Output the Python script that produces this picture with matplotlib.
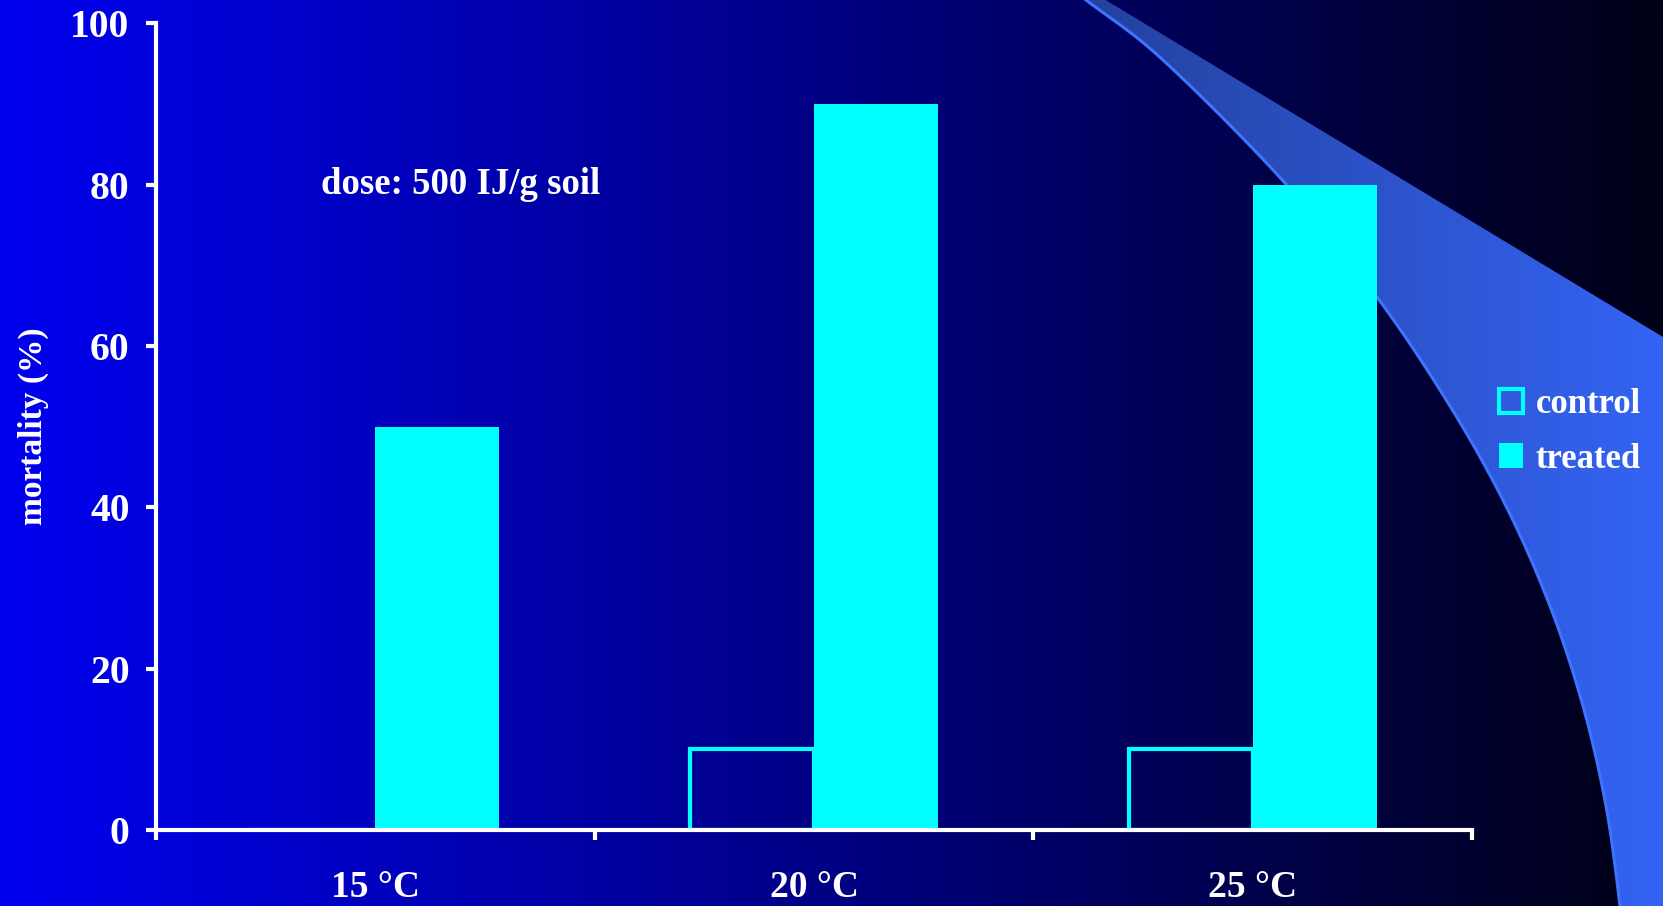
import numpy as np
import matplotlib
matplotlib.use('Agg')
import matplotlib.pyplot as plt
from matplotlib.patches import Polygon, Rectangle

plt.rcParams['font.family'] = ['Liberation Serif', 'DejaVu Sans']
plt.rcParams['font.weight'] = 'bold'

# ---- data ----
categories = ['15 °C', '20 °C', '25 °C']
control = [0, 10, 10]
treated = [50, 90, 80]
series_names = ['control', 'treated']
yticks = [0, 20, 40, 60, 80, 100]
annotation = 'dose: 500 IJ/g soil'
ylabel = 'mortality (%)'

W, H = 1663, 906
fig = plt.figure(figsize=(W / 100, H / 100), dpi=100)

# ---- background (pixel coordinate axes) ----
bg = fig.add_axes([0, 0, 1, 1], zorder=0)
bg.set_xlim(0, W)
bg.set_ylim(H, 0)
bg.axis('off')
t = np.linspace(0, 1, 400)
c_left = np.array([0, 0, 240]) / 255
c_right = np.array([0, 0, 22]) / 255
img = c_left[None, :] * (1 - t[:, None]) + c_right[None, :] * t[:, None]
bg.imshow(img[None, :, :], extent=[0, W, H, 0], aspect='auto', interpolation='bilinear', zorder=0)


def catmull(pts, n=24):
    pts = np.asarray(pts, float)
    P = np.vstack([2 * pts[0] - pts[1], pts, 2 * pts[-1] - pts[-2]])
    out = []
    for i in range(1, len(P) - 2):
        p0, p1, p2, p3 = P[i - 1], P[i], P[i + 1], P[i + 2]
        for s in np.linspace(0, 1, n, endpoint=False):
            out.append(0.5 * ((2 * p1) + (-p0 + p2) * s + (2 * p0 - 5 * p1 + 4 * p2 - p3) * s ** 2
                              + (-p0 + 3 * p1 - 3 * p2 + p3) * s ** 3))
    out.append(P[-2])
    return np.array(out)


inner = catmull([(1048, -30), (1086, 0), (1163, 60), (1285, 183), (1377, 297),
                 (1450, 406), (1506, 506), (1550, 606), (1583, 706), (1606, 806), (1620, 906),
                 (1622, 940)])
verts = np.vstack([[(1056, -30), (1663, 337), (1663, 940)], inner[::-1]])
shape = Polygon(verts, closed=True, facecolor='none', edgecolor='none')
bg.add_patch(shape)
s_left = np.array([34, 62, 150]) / 255
s_right = np.array([52, 100, 245]) / 255
img2 = s_left[None, :] * (1 - t[:, None]) + s_right[None, :] * t[:, None]
im2 = bg.imshow(img2[None, :, :], extent=[1040, W, H, 0], aspect='auto', interpolation='bilinear', zorder=1)
im2.set_clip_path(shape)
bg.plot(inner[:, 0], inner[:, 1], color=(0.24, 0.45, 1.0), lw=2.2, zorder=2)
bg.set_xlim(0, W)
bg.set_ylim(H, 0)

# ---- main axes ----
ax = fig.add_axes([156 / W, 1 - 830 / H, (1472 - 156) / W, (830 - 23.3) / H], zorder=1)
ax.set_facecolor('none')
x = np.arange(len(categories))
w = 0.283
ax.bar(x - w / 2, control, w, facecolor='none', edgecolor='#00FFFF', lw=3, label=series_names[0], zorder=2)
ax.bar(x + w / 2, treated, w, color='#00FFFF', label=series_names[1], zorder=2)

ax.set_xlim(-0.5, len(categories) - 0.5)
ax.set_ylim(0, 100)
for s in ['top', 'right']:
    ax.spines[s].set_visible(False)
for s in ['left', 'bottom']:
    ax.spines[s].set_color('white')
    ax.spines[s].set_linewidth(3)
    ax.spines[s].set_zorder(3)

ax.set_yticks(yticks)
ax.set_yticklabels([str(v) for v in yticks])
ax.tick_params(axis='y', colors='white', length=7, width=3, direction='out', labelsize=28.5, pad=12)
ax.set_xticks(np.arange(len(categories) + 1) - 0.5)
ax.set_xticklabels([])
ax.tick_params(axis='x', which='major', colors='white', length=7, width=3, direction='out')
ax.set_xticks(x, minor=True)
ax.set_xticklabels(categories, minor=True)
ax.tick_params(axis='x', which='minor', length=0, labelsize=27, labelcolor='white', pad=29)
for lab in ax.get_xticklabels(minor=True) + ax.get_yticklabels():
    lab.set_fontweight('bold')

ax.set_ylabel(ylabel, color='white', fontsize=24, fontweight='bold')
ax.yaxis.set_label_coords(-0.081, 0.5)

ax.text(-0.124, 80, annotation, color='white', fontsize=26.5, fontweight='bold', ha='left', va='center')

# ---- legend ----
h1 = Rectangle((0, 0), 1, 1, facecolor='none', edgecolor='#00FFFF', lw=3)
h2 = Rectangle((0, 0), 1, 1, facecolor='#00FFFF', edgecolor='none')
fig.legend([h1, h2], series_names, loc='upper left', bbox_to_anchor=(1499 / W, 1 - 388 / H),
           frameon=False, labelcolor='white', prop={'family': 'Liberation Serif', 'weight': 'bold', 'size': 25},
           handlelength=0.7, handleheight=0.7, handletextpad=0.35, labelspacing=0.62,
           borderpad=0, borderaxespad=0)

fig.savefig('out.png', dpi=100)
